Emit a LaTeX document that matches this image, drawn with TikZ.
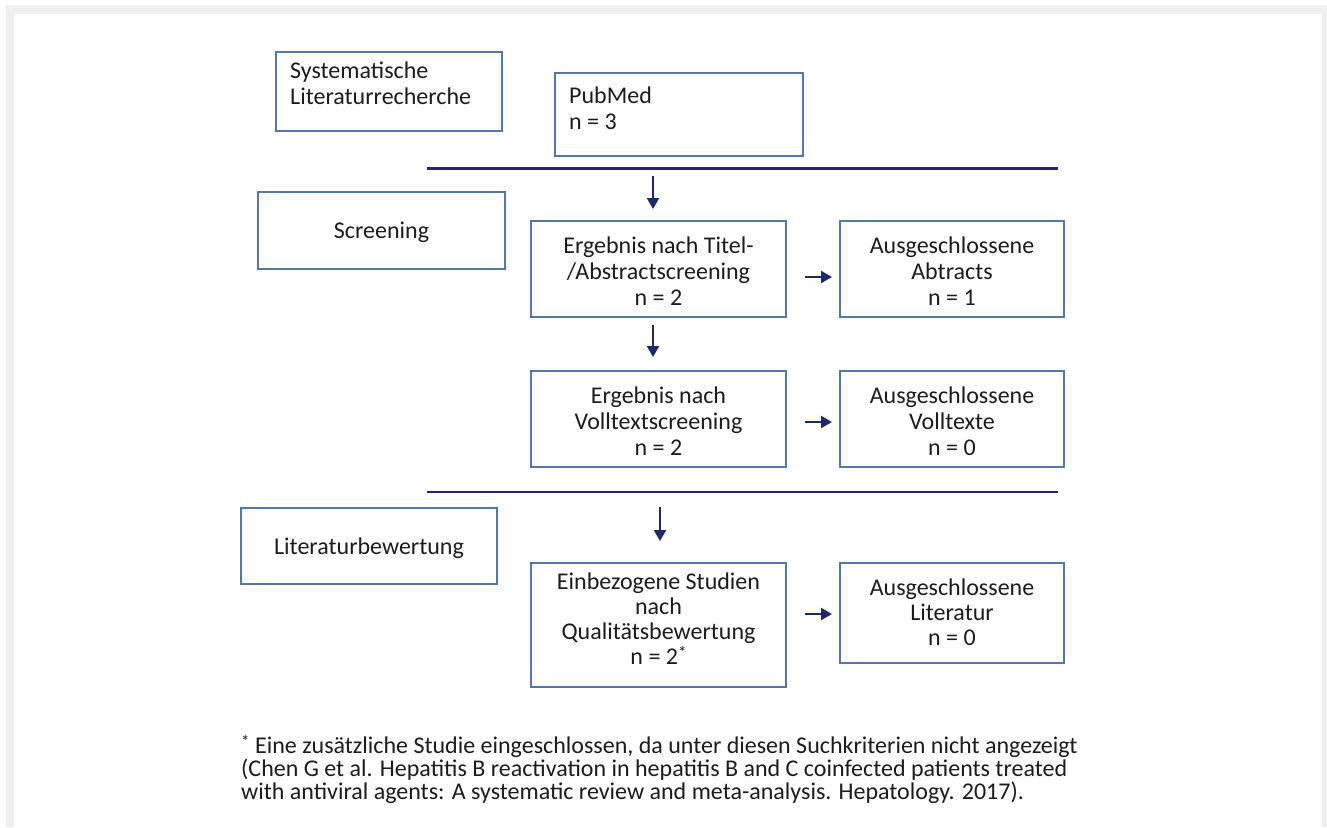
\documentclass[tikz,border=0pt]{standalone}
\usepackage{fontspec}
\setmainfont{Carlito}
\usetikzlibrary{arrows.meta}
\definecolor{framegray}{RGB}{239,239,239}
\definecolor{boxblue}{RGB}{84,120,165}
\definecolor{navy}{RGB}{30,40,108}
\definecolor{ink}{RGB}{28,28,28}
\newcommand{\boxfont}{\fontsize{24}{26}\selectfont}
\newcommand{\tightfont}{\fontsize{24}{25}\selectfont}
\newcommand{\notefont}{\fontsize{24}{23}\selectfont}
\newcommand{\smallstar}{\raisebox{0.25em}{\fontsize{17}{17}\selectfont *}}
\tikzset{
  flowbox/.style={draw=boxblue, line width=1.5pt, rectangle, inner sep=0pt,
    text=ink, font=\boxfont, align=center},
  tagbox/.style={draw=boxblue, line width=1.3pt, rectangle, inner sep=0pt},
  boxtext/.style={anchor=base west, inner sep=0pt, text=ink, font=\boxfont},
  divider/.style={draw=navy},
  flowarrow/.style={draw=navy, line width=2.2pt, -{Triangle[length=11pt,width=12pt]}},
}
\begin{document}
\begin{tikzpicture}[x=1pt,y=-1pt]
  \useasboundingbox (0,0) rectangle (1327,827);
  % grey panel frame
  \fill[framegray] (5.5,5) rectangle (1327,827);
  \fill[white] (14,14) rectangle (1322,827);

  % search stage
  \node[tagbox, minimum width=226pt, minimum height=79pt] (sys) at (389,91.5) {};
  \node[boxtext] (systext) at (290,78) {\parbox[t]{210pt}{\raggedright Systematische\\Literaturrecherche}};
  \node[tagbox, minimum width=248pt, minimum height=83pt] (pub) at (679,114.5) {};
  \node[boxtext] (pubtext) at (569,103) {\parbox[t]{220pt}{\raggedright PubMed\\n = 3}};

  \draw[divider, line width=3pt] (427,168) coordinate (d1a) -- (1058,168) coordinate (d1b);

  % screening stage
  \node[flowbox, minimum width=247pt, minimum height=77pt, text depth=0pt] (scr) at (381.5,230.5) {Screening};
  \node[flowbox, minimum width=255pt, minimum height=96pt] (e1) at (658.5,269) {};
  \node[inner sep=0pt, text=ink, font=\boxfont, align=center] (e1text) at (658.5,271)
    {Ergebnis nach Titel-\\/Abstractscreening\\n = 2};
  \node[flowbox, minimum width=224pt, minimum height=96pt] (x1) at (952,269) {};
  \node[inner sep=0pt, text=ink, font=\boxfont, align=center] (x1text) at (952,271)
    {Ausgeschlossene\\Abtracts\\n = 1};
  \node[flowbox, minimum width=255pt, minimum height=96pt] (e2) at (658.5,419) {};
  \node[inner sep=0pt, text=ink, font=\boxfont, align=center] (e2text) at (658.5,421)
    {Ergebnis nach\\Volltextscreening\\n = 2};
  \node[flowbox, minimum width=224pt, minimum height=96pt] (x2) at (952,419) {};
  \node[inner sep=0pt, text=ink, font=\boxfont, align=center] (x2text) at (952,421)
    {Ausgeschlossene\\Volltexte\\n = 0};

  \draw[divider, line width=2pt] (427,492) coordinate (d2a) -- (1058,492) coordinate (d2b);

  % appraisal stage
  \node[flowbox, minimum width=256pt, minimum height=76pt, text depth=0pt] (lit) at (369,546) {Literaturbewertung};
  \node[flowbox, minimum width=255pt, minimum height=124pt] (e3) at (658.5,625) {};
  \node[inner sep=0pt, text=ink, font=\tightfont, align=center] (e3text) at (658.5,619)
    {Einbezogene Studien\\nach\\Qualitätsbewertung\\n = 2\smallstar};
  \node[flowbox, minimum width=224pt, minimum height=100pt] (x3) at (952,613) {};
  \node[inner sep=0pt, text=ink, font=\tightfont, align=center] (x3text) at (952,612)
    {Ausgeschlossene\\Literatur\\n = 0};

  % arrows
  \coordinate (s1) at (653,176);
  \coordinate (t1) at (653,209);
  \draw[flowarrow] (s1) -- (t1);
  \coordinate (s2) at (653,325);
  \coordinate (t2) at (653,357);
  \draw[flowarrow] (s2) -- (t2);
  \coordinate (s3) at (660,507);
  \coordinate (t3) at (660,541);
  \draw[flowarrow] (s3) -- (t3);
  \coordinate (r1) at (805,277);
  \coordinate (q1) at (832,277);
  \draw[flowarrow] (r1) -- (q1);
  \coordinate (r2) at (805,422);
  \coordinate (q2) at (832,422);
  \draw[flowarrow] (r2) -- (q2);
  \coordinate (r3) at (805,614);
  \coordinate (q3) at (832,614);
  \draw[flowarrow] (r3) -- (q3);

  % footnote
  \node[anchor=base west, inner sep=0pt, text=ink, font=\notefont] (note) at (241,753)
    {\parbox[t]{1050pt}{\raggedright
      \smallstar\ Eine zusätzliche Studie eingeschlossen, da unter diesen Suchkriterien nicht angezeigt\\
      (Chen G et al. Hepatitis B reactivation in hepatitis B and C coinfected patients treated\\
      with antiviral agents: A systematic review and meta-analysis. Hepatology. 2017).}};
\end{tikzpicture}
\end{document}
